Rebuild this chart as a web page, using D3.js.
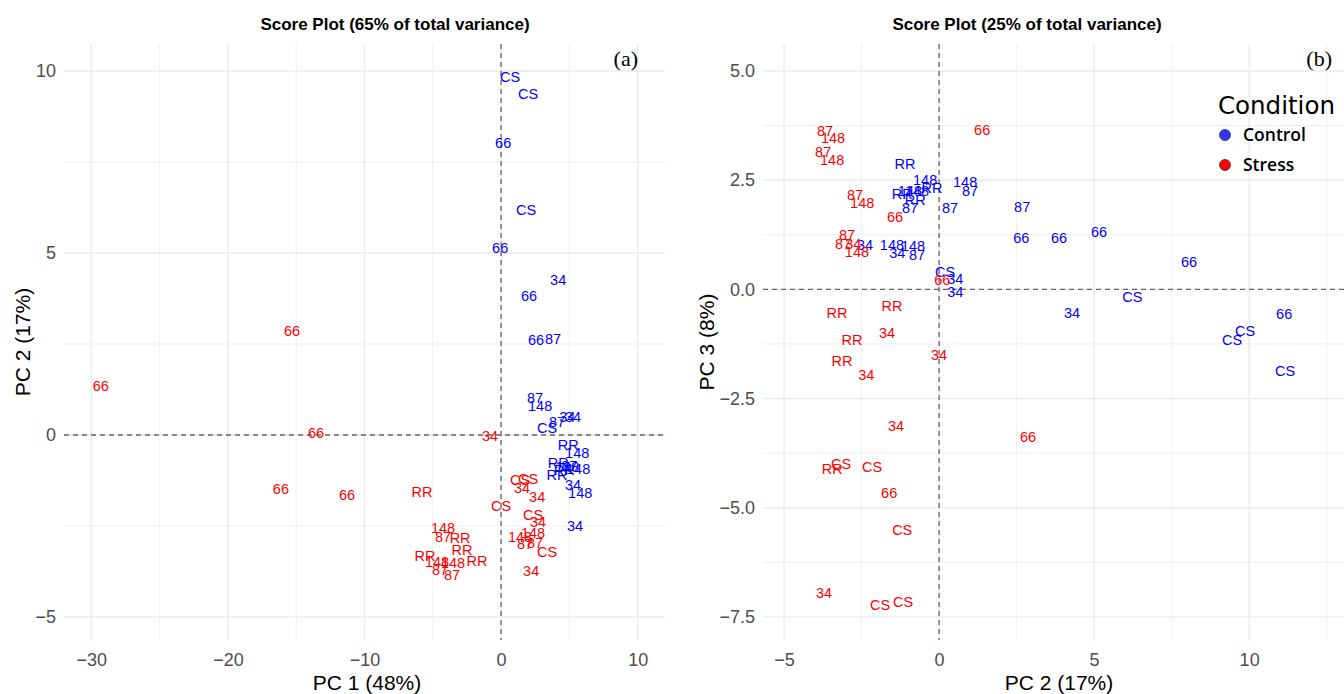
<!DOCTYPE html>
<html lang="en">
<head>
<meta charset="utf-8" />
<title>Score Plots</title>
<script src="https://d3js.org/d3.v7.min.js"></script>
<style>
  body { margin: 0; background: #fff; }
  text { font-family: "Liberation Sans", Arial, sans-serif; }
</style>
</head>
<body>
<div id="chart"></div>
<script>
// genotype labels with scores, [label, x, y]
// panel (a): PC1 vs PC2
var controlA = [
  ["CS", 0.66, 9.84], ["CS", 1.98, 9.37], ["66", 0.15, 8.02], ["CS", 1.83, 6.18],
  ["66", -0.07, 5.14], ["34", 4.18, 4.26], ["66", 2.05, 3.82], ["66", 2.56, 2.61],
  ["87", 3.81, 2.64], ["87", 2.49, 1.02], ["148", 2.86, 0.80], ["CS", 3.37, 0.19],
  ["87", 4.10, 0.36], ["34", 4.84, 0.49], ["34", 5.27, 0.49], ["RR", 4.91, -0.27],
  ["148", 5.57, -0.49], ["RR", 4.18, -0.77], ["148", 4.84, -0.88], ["RR", 4.62, -0.96],
  ["148", 5.64, -0.93], ["87", 5.0, -0.85], ["RR", 4.10, -1.10], ["34", 5.27, -1.37],
  ["148", 5.79, -1.59], ["34", 5.42, -2.50]
];
var stressA = [
  ["66", -29.30, 1.35], ["66", -15.31, 2.86], ["66", -13.55, 0.05], ["66", -16.12, -1.48],
  ["66", -11.28, -1.65], ["RR", -5.79, -1.57], ["34", -0.81, -0.03], ["CS", 0.0, -1.95],
  ["CS", 1.39, -1.24], ["CS", 1.98, -1.21], ["34", 1.54, -1.46], ["34", 2.64, -1.70],
  ["CS", 2.34, -2.20], ["34", 2.71, -2.39], ["148", -4.25, -2.55], ["87", -4.25, -2.80],
  ["RR", -3.0, -2.83], ["148", 2.34, -2.69], ["148", 1.39, -2.80], ["87", 1.76, -2.99],
  ["87", 2.49, -2.97], ["CS", 3.37, -3.21], ["RR", -5.57, -3.32], ["RR", -2.86, -3.16],
  ["148", -4.69, -3.49], ["148", -3.52, -3.52], ["RR", -1.76, -3.46], ["87", -4.47, -3.71],
  ["87", -3.59, -3.85], ["34", 2.20, -3.74]
];
// panel (b): PC2 vs PC3
var controlB = [
  ["RR", -1.10, 2.87], ["148", -0.45, 2.50], ["RR", -0.23, 2.32], ["RR", -1.19, 2.18],
  ["148", -0.94, 2.25], ["148", -0.71, 2.25], ["RR", -0.77, 2.06], ["87", -0.94, 1.86],
  ["87", 0.35, 1.86], ["148", 0.84, 2.45], ["87", 1.0, 2.25], ["87", 2.68, 1.88],
  ["66", 2.65, 1.17], ["66", 3.87, 1.17], ["66", 5.16, 1.31], ["66", 8.06, 0.62],
  ["34", -2.39, 1.01], ["148", -1.52, 1.01], ["34", -1.35, 0.83], ["148", -0.84, 0.99],
  ["87", -0.71, 0.80], ["CS", 0.19, 0.41], ["34", 0.52, 0.23], ["34", 0.52, -0.05],
  ["CS", 6.23, -0.18], ["34", 4.29, -0.53], ["CS", 9.87, -0.94], ["CS", 9.45, -1.15],
  ["66", 11.13, -0.57], ["CS", 11.16, -1.86]
];
var stressB = [
  ["87", -3.68, 3.62], ["148", -3.42, 3.46], ["87", -3.74, 3.14], ["148", -3.45, 2.96],
  ["66", 1.39, 3.65], ["87", -2.71, 2.16], ["148", -2.48, 1.97], ["66", -1.42, 1.65],
  ["87", -2.97, 1.24], ["87", -3.10, 1.03], ["34", -2.77, 1.03], ["148", -2.65, 0.85],
  ["66", 0.10, 0.21], ["RR", -3.29, -0.53], ["RR", -1.52, -0.39], ["RR", -2.81, -1.15],
  ["34", -1.68, -0.99], ["34", 0.0, -1.49], ["RR", -3.13, -1.63], ["34", -2.35, -1.97],
  ["34", -1.39, -3.12], ["66", 2.87, -3.39], ["RR", -3.45, -4.11], ["CS", -3.16, -3.99],
  ["CS", -2.16, -4.06], ["66", -1.61, -4.66], ["CS", -1.19, -5.50], ["34", -3.71, -6.95],
  ["CS", -1.90, -7.22], ["CS", -1.16, -7.16]
];

var xTicksA = [-30, -20, -10, 0, 10], yTicksA = [-5, 0, 5, 10];
var xTicksB = [-5, 0, 5, 10], yTicksB = [-7.5, -5, -2.5, 0, 2.5, 5];
var conditions = ["Control", "Stress"];
var colors = { Control: "#0000ff", Stress: "#ff0000" };

var W = 1344, H = 694;
var svg = d3.select("#chart").append("svg")
  .attr("width", W).attr("height", H);

function midpoints(ticks) {
  var m = [];
  var step = ticks[1] - ticks[0];
  m.push(ticks[0] - step / 2);
  for (var i = 0; i < ticks.length; i++) m.push(ticks[i] + step / 2);
  return m;
}

function panel(opt) {
  var x = d3.scaleLinear().domain(opt.xd).range([opt.left, opt.right]);
  var y = d3.scaleLinear().domain(opt.yd).range([opt.bottom, opt.top]);
  var g = svg.append("g");

  // minor grid
  var xm = midpoints(opt.xt).filter(function(v) { return v > opt.xd[0] && v < opt.xd[1]; });
  var ym = midpoints(opt.yt).filter(function(v) { return v > opt.yd[0] && v < opt.yd[1]; });
  g.selectAll(".gxm").data(xm).enter().append("line")
    .attr("x1", x).attr("x2", x).attr("y1", opt.top).attr("y2", opt.bottom)
    .attr("stroke", "#ebebeb").attr("stroke-width", 0.8);
  g.selectAll(".gym").data(ym).enter().append("line")
    .attr("y1", y).attr("y2", y).attr("x1", opt.left).attr("x2", opt.right)
    .attr("stroke", "#ebebeb").attr("stroke-width", 0.8);
  // major grid
  g.selectAll(".gx").data(opt.xt).enter().append("line")
    .attr("x1", x).attr("x2", x).attr("y1", opt.top).attr("y2", opt.bottom)
    .attr("stroke", "#ebebeb").attr("stroke-width", 1.4);
  g.selectAll(".gy").data(opt.yt).enter().append("line")
    .attr("y1", y).attr("y2", y).attr("x1", opt.left).attr("x2", opt.right)
    .attr("stroke", "#ebebeb").attr("stroke-width", 1.4);

  // zero lines
  g.append("line").attr("x1", opt.left).attr("x2", opt.right)
    .attr("y1", y(0)).attr("y2", y(0))
    .attr("stroke", "#666").attr("stroke-width", 1.3).attr("stroke-dasharray", "5,4");
  g.append("line").attr("y1", opt.top).attr("y2", opt.bottom)
    .attr("x1", x(0)).attr("x2", x(0))
    .attr("stroke", "#666").attr("stroke-width", 1.3).attr("stroke-dasharray", "5,4");

  // axes (no domain, no ticks)
  var xAxis = g.append("g").attr("transform", "translate(0," + (opt.bottom + 7) + ")")
    .call(d3.axisBottom(x).tickValues(opt.xt).tickSize(0).tickFormat(opt.xf).tickPadding(6));
  xAxis.select(".domain").remove();
  xAxis.selectAll("text").style("font-size", "18px").attr("fill", "#4d4d4d")
    .style("font-family", "'Liberation Sans', Arial, sans-serif");
  var yAxis = g.append("g").attr("transform", "translate(" + (opt.left - 5) + ",0)")
    .call(d3.axisLeft(y).tickValues(opt.yt).tickSize(0).tickFormat(opt.yf).tickPadding(3));
  yAxis.select(".domain").remove();
  yAxis.selectAll("text").style("font-size", "18px").attr("fill", "#4d4d4d")
    .style("font-family", "'Liberation Sans', Arial, sans-serif");

  // labels
  var pts = opt.ctrl.map(function(d) { return { lab: d[0], x: d[1], y: d[2], c: "Control" }; })
    .concat(opt.stress.map(function(d) { return { lab: d[0], x: d[1], y: d[2], c: "Stress" }; }));
  g.selectAll(".pt").data(pts).enter().append("text")
    .attr("x", function(d) { return x(d.x); })
    .attr("y", function(d) { return y(d.y); })
    .attr("dy", "0.35em")
    .attr("text-anchor", "middle")
    .style("font-size", "14.5px")
    .attr("fill", function(d) { return colors[d.c]; })
    .text(function(d) { return d.lab; });

  // titles
  svg.append("text").attr("x", opt.titleX).attr("y", 30)
    .attr("text-anchor", "middle").style("font-size", "17px").style("font-weight", "bold")
    .text(opt.title);
  svg.append("text").attr("x", opt.xlabX).attr("y", 690)
    .attr("text-anchor", "middle").style("font-size", "21px")
    .text(opt.xlab);
  svg.append("text")
    .attr("transform", "translate(" + opt.ylabX + "," + ((opt.top + opt.bottom) / 2) + ") rotate(-90)")
    .attr("text-anchor", "middle").style("font-size", "21px")
    .text(opt.ylab);
  svg.append("text").attr("x", opt.tagX).attr("y", 66)
    .attr("text-anchor", "end")
    .style("font-family", "'Liberation Serif', 'Times New Roman', serif")
    .style("font-size", "22px")
    .text(opt.tag);
}

panel({
  left: 64, right: 665, top: 44, bottom: 640,
  xd: [-32.0, 12.0], yd: [-5.63, 10.74],
  xt: xTicksA, yt: yTicksA,
  xf: d3.format("d"), yf: d3.format("d"),
  ctrl: controlA, stress: stressA,
  title: "Score Plot (65% of total variance)",
  xlab: "PC 1 (48%)", ylab: "PC 2 (17%)",
  titleX: 395, xlabX: 367, ylabX: 30, tag: "(a)", tagX: 638
});

panel({
  left: 763, right: 1344, top: 44, bottom: 640,
  xd: [-5.68, 13.06], yd: [-8.03, 5.62],
  xt: xTicksB, yt: yTicksB,
  xf: d3.format("d"), yf: d3.format(".1f"),
  ctrl: controlB, stress: stressB,
  title: "Score Plot (25% of total variance)",
  xlab: "PC 2 (17%)", ylab: "PC 3 (8%)",
  titleX: 1027, xlabX: 1059, ylabX: 714, tag: "(b)", tagX: 1332
});

// legend
var leg = svg.append("g").attr("transform", "translate(1218,0)");
leg.append("text").attr("x", 0).attr("y", 114)
  .style("font-family", "'DejaVu Sans', Verdana, sans-serif")
  .style("font-size", "24.5px").text("Condition");
leg.selectAll(".li").data(conditions).enter().append("circle")
  .attr("cx", 7).attr("cy", function(d, i) { return 135 + i * 30; })
  .attr("r", 5.5)
  .attr("fill", function(d) { return d === "Control" ? "#3333ff" : "#ff0000"; })
  .attr("stroke", "#333").attr("stroke-width", 0.8);
leg.selectAll(".lt").data(conditions).enter().append("text")
  .attr("x", 25).attr("y", function(d, i) { return 141 + i * 30; })
  .style("font-family", "'Open Sans', 'DejaVu Sans', sans-serif")
  .style("font-size", "17.5px").style("font-weight", "600")
  .text(function(d) { return d; });
</script>
</body>
</html>
